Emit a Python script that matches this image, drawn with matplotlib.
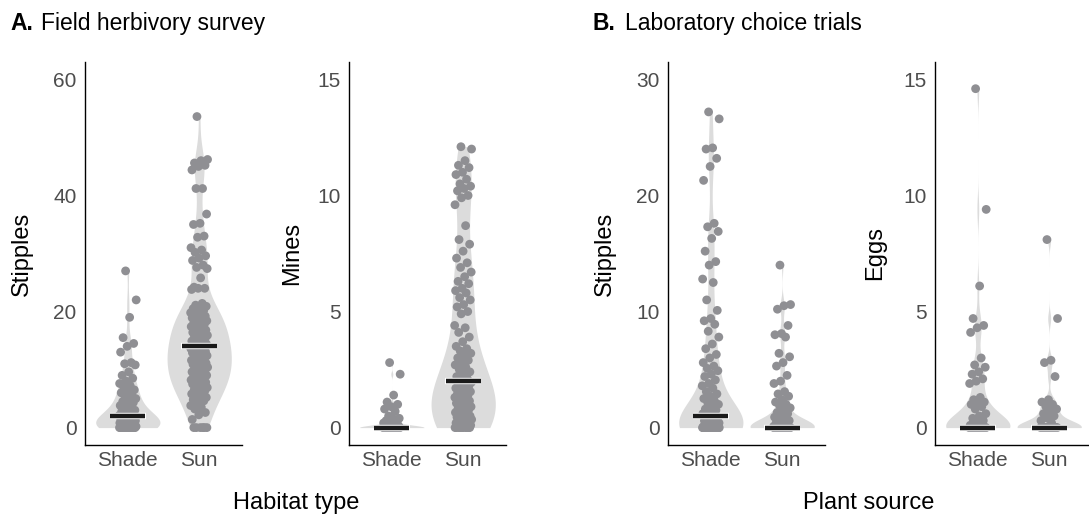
import numpy as np
import matplotlib
matplotlib.use('Agg')
import matplotlib.pyplot as plt

plt.rcParams['font.family'] = ['Liberation Sans', 'DejaVu Sans']

# === DATA ===
groups = ['Shade', 'Sun']

field_stipples_shade = [27, 22, 19, 15.5, 14.5, 14, 13, 11.2, 11, 10.8, 9.6, 9, 8.5, 8, 7.6,
                        7.2, 7, 6.5, 6.2, 6, 5.6, 5.3, 5, 4.8, 4.5, 4.3, 4, 3.8, 3.5, 3.3,
                        3, 3, 2.8, 2.5, 2.3, 2.1, 2, 2, 1.8, 1.6, 1.5, 1.5, 1.3, 1.2, 1.2, 1,
                        1, 0.8, 0.8, 0.7, 0.6, 0.5, 0.5, 0.4, 0.3, 0.3, 0.2, 0.2, 0.1, 0.1,
                        0, 0, 0, 0, 0, 0, 0, 0, 0, 0, 0, 0, 0]
field_stipples_sun = [53.6, 46.2, 46, 45.6, 45.2, 45, 44.4, 41.2, 41.2, 36.8, 35.2, 35, 33,
                      32.8, 31, 30.6, 30.2, 29.6, 29.2, 28.8, 28, 27.6, 27.4, 25.8, 24.2, 24,
                      24, 23.8,
                      21.4, 21.1, 20.9, 20.7, 20.5, 20.2, 20.1, 19.8, 19.6, 19.5, 19.2, 19,
                      18.9, 18.7, 18.5, 18.4, 18.1, 18, 17.8, 17.5, 17.4, 17.1, 17, 16.8,
                      16.5, 16.4, 16.2, 16, 15.9, 15.6, 15.5, 15.2, 15.1, 14.9, 14.7, 14.6,
                      14.4, 14.5, 14.3, 14.2,
                      13.8, 13.6, 13.5, 13.2, 13.1, 13, 12.9, 12.7, 12.5, 12.4, 12.2, 12,
                      11.9, 11.8, 11.6, 11.5, 11.3, 11.1, 11, 10.9, 10.8, 10.6, 10.4, 10.3,
                      10, 9.9, 9.8, 9.6, 9.4, 9.3, 9, 8.9, 8.8, 8.6, 8.5, 8.2, 8.1, 8, 7.8,
                      7.6, 7.5, 7.2, 7, 6.9, 6.8, 6.5, 6.3, 6.1, 5.8, 5.6, 5.5, 5.2, 5, 4.8,
                      4.6, 4.2, 3.8, 3.5, 3.2, 2.6, 2.2, 1.4, 0, 0, 0, 0, 0, 0]

field_mines_shade = [2.8, 2.3, 1.4, 1.1, 1.0, 0.9, 0.8, 0.7, 0.5, 0.4, 0.4, 0.3, 0.3, 0.3,
                     0.2, 0.2, 0.2, 0.1, 0.1, 0.1, 0.1] + [0] * 30
field_mines_sun = [12.1, 12.0, 11.5, 11.3, 11.2, 11.0, 10.9, 10.7, 10.5, 10.4, 10.3, 10.2,
                   10.0, 9.9, 9.6, 8.7, 8.1, 7.9, 7.6, 7.3, 7.1, 6.9, 6.7, 6.5, 6.3, 6.2,
                   6.0, 5.9, 5.8, 5.6, 5.5, 5.3, 5.2, 5.0, 4.9, 4.4, 4.3, 4.1, 3.9, 3.7,
                   3.5, 3.4, 3.3, 3.2, 3.1, 3.0, 2.9, 2.8, 2.7, 2.6, 2.5, 2.4, 2.3, 2.2,
                   2.1,
                   2.0, 1.95, 1.9, 1.85, 1.8, 1.75, 1.7, 1.65, 1.6, 1.55, 1.5, 1.45, 1.4,
                   1.35, 1.3, 1.25, 1.2, 1.15, 1.1, 1.05, 1.0, 0.95, 0.9, 0.85, 0.8, 0.75,
                   0.7, 0.65, 0.6, 0.55, 0.5, 0.5, 0.45, 0.4, 0.35, 0.35, 0.3, 0.3, 0.25,
                   0.2, 0.2, 0.15, 0.15, 0.1, 0.1, 0.05, 0, 0, 0, 0, 0, 0, 0, 0, 0, 0]

lab_stipples_shade = [27.2, 26.6, 24.1, 24.0, 23.2, 22.5, 21.3, 17.6, 17.3, 16.9, 16.3,
                      15.2, 14.3, 14.0, 12.8, 12.5, 11.0, 10.1, 9.4, 9.2, 8.9, 8.3, 7.8, 7.2,
                      6.8, 6.3, 6.0, 5.6, 5.3, 5.1, 4.9, 4.6, 4.4, 4.1, 3.8, 3.6, 3.4, 3.1,
                      2.9, 2.7, 2.5, 2.3, 2.1, 2.0, 1.8, 1.6, 1.5, 1.3, 1.2,
                      1.0, 0.9, 0.8, 0.7, 0.6, 0.5, 0.5, 0.4, 0.3, 0.3, 0.2, 0.2, 0.1, 0.1] + [0] * 36
lab_stipples_sun = [14.0, 10.6, 10.5, 10.2, 8.8, 8.1, 8.0, 7.8, 6.4, 6.1, 5.6, 5.3, 4.5, 4.0,
                    3.8, 3.1, 2.9, 2.7, 2.4, 2.2, 2.0, 1.9, 1.7, 1.5, 1.3, 1.2, 1.0, 0.9,
                    0.8, 0.7, 0.6, 0.5, 0.4, 0.3, 0.2, 0.1] + [0] * 38

lab_eggs_shade = [14.6, 9.4, 6.1, 4.7, 4.4, 4.3, 4.1, 3.0, 2.7, 2.6, 2.4, 2.3, 2.1, 2.0,
                  1.9, 1.3, 1.2, 1.1, 1.0, 1.0, 0.9, 0.8, 0.6, 0.5, 0.4, 0.3, 0.2, 0.1] + [0] * 30
lab_eggs_sun = [8.1, 4.7, 2.9, 2.8, 2.2, 1.2, 1.1, 1.0, 0.9, 0.8, 0.7, 0.6, 0.5, 0.4, 0.3,
                0.2] + [0] * 20

panels = [
    ('Stipples', [field_stipples_shade, field_stipples_sun], [0, 20, 40, 60], 60),
    ('Mines', [field_mines_shade, field_mines_sun], [0, 5, 10, 15], 15),
    ('Stipples', [lab_stipples_shade, lab_stipples_sun], [0, 10, 20, 30], 30),
    ('Eggs', [lab_eggs_shade, lab_eggs_sun], [0, 5, 10, 15], 15),
]

VIOLIN = '#dcdcdc'
POINT = '#8f8f93'
TICKCOL = '#4d4d4d'


def bw_nrd0(x):
    x = np.asarray(x, float)
    hi = np.std(x, ddof=1)
    q75, q25 = np.percentile(x, [75, 25])
    lo = min(hi, (q75 - q25) / 1.34)
    if lo == 0:
        lo = hi if hi > 0 else 1.0
    return 0.9 * lo * len(x) ** (-0.2)


def violin(ax, pos, vals, half=0.45):
    vals = np.asarray(vals, float)
    bw = bw_nrd0(vals)
    grid = np.linspace(vals.min(), vals.max(), 512)
    dens = np.exp(-0.5 * ((grid[:, None] - vals[None, :]) / bw) ** 2).sum(axis=1)
    w = dens / dens.max() * half
    ax.fill_betweenx(grid, pos - w, pos + w, color=VIOLIN, lw=0, zorder=1)


W, H = 1089, 520
fig = plt.figure(figsize=(W / 100, H / 100), dpi=100)

lefts = [85, 349, 668, 935]
ylab_x = [22, 292, 605, 875]
ax_w, ax_top, ax_bot = 157, 62, 445

for i, (ylab, data, yticks, ymax) in enumerate(panels):
    ax = fig.add_axes([lefts[i] / W, 1 - ax_bot / H, ax_w / W, (ax_bot - ax_top) / H])
    for k, vals in enumerate(data):
        pos = k + 1
        violin(ax, pos, vals)
        n = len(vals)
        jit = ((np.arange(n) * 0.6180339887 + 0.37) % 1.0 - 0.5) * 2 * 0.12
        ax.scatter(pos + jit, vals, s=40, color=POINT, edgecolors='none', zorder=2)
        med = np.median(vals)
        ax.plot([pos - 0.25, pos + 0.25], [med, med], color='white', lw=4.6,
                solid_capstyle='butt', zorder=3)
        ax.plot([pos - 0.245, pos + 0.245], [med, med], color='#1a1a1a', lw=3.2,
                solid_capstyle='butt', zorder=4)
    ax.set_xlim(0.4, 2.6)
    ax.set_ylim(-ymax * 0.05, ymax * 1.05)
    ax.set_yticks(yticks)
    ax.set_xticks([1, 2])
    ax.set_xticklabels(groups)
    ax.tick_params(length=0, labelsize=15, colors=TICKCOL)
    ax.tick_params(axis='x', pad=4)
    ax.tick_params(axis='y', pad=6)
    for s in ['top', 'right']:
        ax.spines[s].set_visible(False)
    for s in ['left', 'bottom']:
        ax.spines[s].set_linewidth(1.0)
        ax.spines[s].set_color('black')
    fig.text(ylab_x[i] / W, 1 - (ax_top + ax_bot) / 2 / H, ylab, rotation=90,
             ha='center', va='center', fontsize=17, color='black')

# panel titles
fig.text(10 / W, 1 - 30 / H, 'A.', fontsize=16.5, fontweight='bold', ha='left', va='baseline')
fig.text(41 / W, 1 - 30 / H, 'Field herbivory survey', fontsize=16.5, ha='left', va='baseline')
fig.text(593 / W, 1 - 30 / H, 'B.', fontsize=16.5, fontweight='bold', ha='left', va='baseline')
fig.text(625 / W, 1 - 30 / H, 'Laboratory choice trials', fontsize=16.5, ha='left', va='baseline')

# shared x labels
fig.text(296 / W, 1 - 509 / H, 'Habitat type', fontsize=17, ha='center', va='baseline')
fig.text(869 / W, 1 - 509 / H, 'Plant source', fontsize=17, ha='center', va='baseline')

fig.savefig('out.png', dpi=100)
